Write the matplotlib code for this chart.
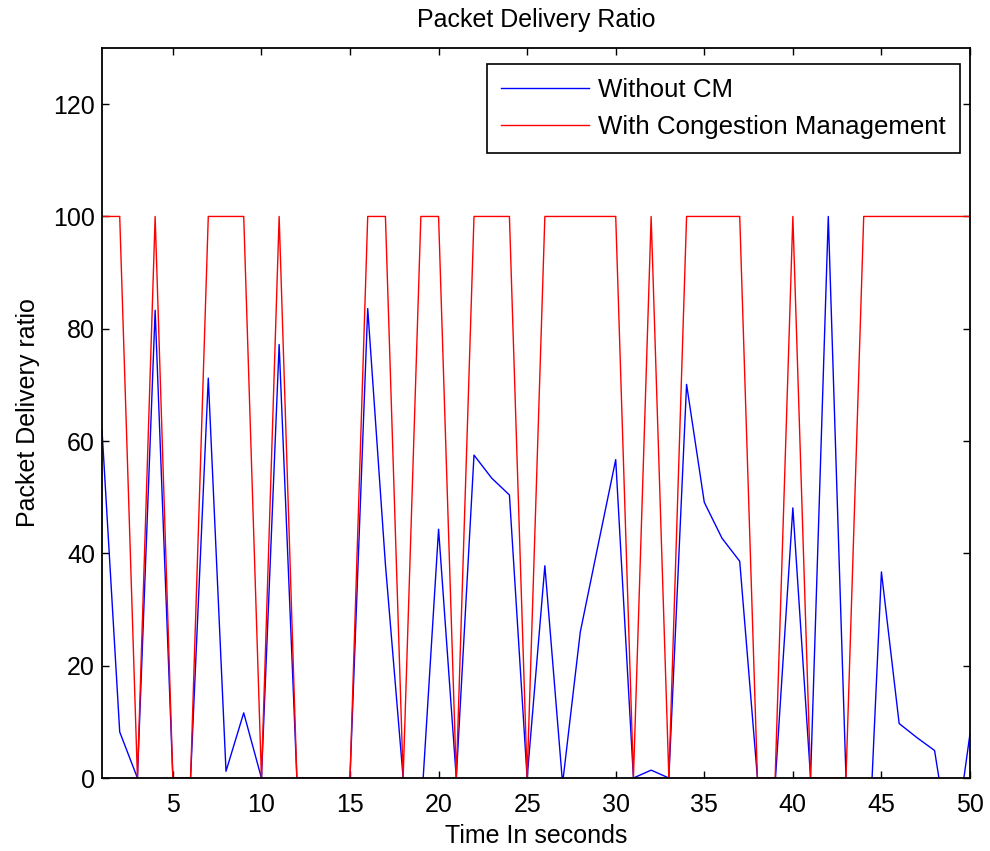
import matplotlib
matplotlib.use("Agg")
import matplotlib.pyplot as plt

plt.rcParams['font.family'] = ['Liberation Sans', 'DejaVu Sans']

# Время (с)
t = list(range(1, 51))

# Без управления перегрузкой
without_cm = [62, 8.2, 0, 83.3, 0, 0, 71.2, 1.2, 11.6, 0,
              77.2, 0, 0, 0, 0, 83.6, 38, 0, -6.7, 44.3,
              0, 57.5, 53.4, 50.4, 0, 37.8, -1, 26.0, 41.4, 56.7,
              0, 1.4, 0, 70.1, 49.1, 42.7, 38.6, 0, -1, 48.1,
              0, 100, 0, -32.8, 36.7, 9.7, 7.2, 4.9, -15, 7.9]

# С управлением перегрузкой
with_cm = [100, 100, 0, 100, 0, 0, 100, 100, 100, 0,
           100, 0, 0, 0, 0, 100, 100, 0, 100, 100,
           0, 100, 100, 100, 0, 100, 100, 100, 100, 100,
           0, 100, 0, 100, 100, 100, 100, 0, 0, 100,
           0, 0, 0, 100, 100, 100, 100, 100, 100, 100]

fs = 18

fig = plt.figure(figsize=(9.9, 8.51), dpi=100)
ax = fig.add_axes([102 / 990, 1 - 778 / 851, 868 / 990, 730 / 851])

ax.plot(t, without_cm, color="blue", linewidth=1, label="Without CM")
ax.plot(t, with_cm, color="red", linewidth=1, label="With Congestion Management")

ax.set_xlim(1, 50)
ax.set_ylim(0, 130)
ax.set_xticks(range(5, 51, 5))
ax.set_yticks(range(0, 121, 20))
ax.tick_params(direction="in", top=True, right=True, labelsize=fs, length=5, width=1)
ax.tick_params(axis="x", pad=11)
ax.tick_params(axis="y", pad=5)
for s in ax.spines.values():
    s.set_linewidth(1.3)

ax.set_title("Packet Delivery Ratio", fontsize=fs, pad=15)
ax.set_xlabel("Time In seconds", fontsize=fs)
ax.set_ylabel("Packet Delivery ratio", fontsize=fs)
ax.xaxis.set_label_coords(0.5, -0.063)
ax.yaxis.set_label_coords(-0.072, 0.5)

leg = ax.legend(loc="upper right", bbox_to_anchor=(0.9885, 0.978), fontsize=18.6,
                fancybox=False, framealpha=1, edgecolor="black", borderaxespad=0,
                handlelength=3.4, handletextpad=0.35, borderpad=0.55, labelspacing=0.5)
leg.get_frame().set_linewidth(1.2)

fig.savefig("out.png", dpi=100)
